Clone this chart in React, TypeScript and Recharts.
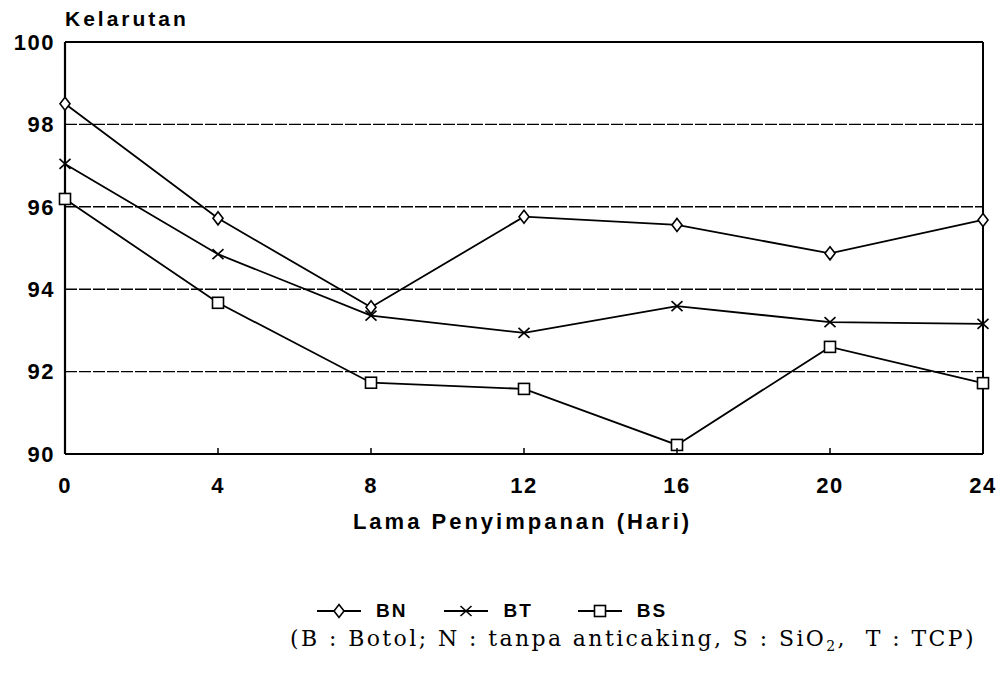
import React from 'react';
import { LineChart, Line, XAxis, YAxis, ReferenceLine } from 'recharts';

const days = [0, 4, 8, 12, 16, 20, 24];
const bn = [98.5, 95.72, 93.56, 95.76, 95.56, 94.87, 95.68];
const bt = [97.04, 94.85, 93.36, 92.94, 93.59, 93.2, 93.16];
const bs = [96.19, 93.67, 91.73, 91.58, 90.22, 92.6, 91.72];
const seriesNames = ['BN', 'BT', 'BS'];
const yTicks = [90, 92, 94, 96, 98, 100];
const gridValues = [92, 94, 96, 98];
const xTicks = [0, 4, 8, 12, 16, 20, 24];

const data = days.map((d, i) => ({ day: d, BN: bn[i], BT: bt[i], BS: bs[i] }));

const SANS = '"Liberation Sans", Arial, sans-serif';
const SERIF = '"DejaVu Serif", "Liberation Serif", serif';

const Diamond = (props: any) => {
  const { cx, cy } = props;
  if (cx == null || cy == null) return null;
  return (
    <path d={`M${cx},${cy - 6.5} L${cx + 5},${cy} L${cx},${cy + 6.5} L${cx - 5},${cy} Z`} fill="#fff" stroke="#000" strokeWidth={1.6} />
  );
};
const Cross = (props: any) => {
  const { cx, cy } = props;
  if (cx == null || cy == null) return null;
  return (
    <g stroke="#000" strokeWidth={1.6}>
      <line x1={cx - 5.5} y1={cy - 5} x2={cx + 5.5} y2={cy + 5} />
      <line x1={cx - 5.5} y1={cy + 5} x2={cx + 5.5} y2={cy - 5} />
    </g>
  );
};
const Square = (props: any) => {
  const { cx, cy } = props;
  if (cx == null || cy == null) return null;
  return <rect x={cx - 5.5} y={cy - 5.5} width={11} height={11} fill="#fff" stroke="#000" strokeWidth={1.6} />;
};

const markers: Record<string, (p: any) => any> = { BN: Diamond, BT: Cross, BS: Square };

const XTick = (props: any) => {
  const { x, y, payload, index } = props;
  const inner = index > 0 && index < xTicks.length - 1;
  return (
    <g>
      {inner && <line x1={x} x2={x} y1={y} y2={y - 6} stroke="#000" strokeWidth={1.5} />}
      <text x={x} y={y + 39} textAnchor="middle" fill="#000" fontSize={22} fontWeight="bold" fontFamily={SANS} letterSpacing={1.5}>
        {payload.value}
      </text>
    </g>
  );
};

const LegendBlock = () => (
  <div style={{ position: 'absolute', top: 600, left: 316, display: 'flex', alignItems: 'center' }}>
    {seriesNames.map((name, i) => {
      const M = markers[name];
      return (
        <div key={name} style={{ display: 'flex', alignItems: 'center', marginRight: i === 0 ? 36 : 44 }}>
          <svg width={46} height={20} style={{ display: 'block' }}>
            <line x1={1} x2={45} y1={10} y2={10} stroke="#000" strokeWidth={1.8} />
            <M cx={23} cy={10} />
          </svg>
          <span style={{ marginLeft: 14, fontFamily: SANS, fontWeight: 'bold', fontSize: 19, letterSpacing: 2, color: '#000' }}>
            {name}
          </span>
        </div>
      );
    })}
  </div>
);

export default function App() {
  return (
    <div style={{ position: 'absolute', left: 0, top: 0, width: 1005, height: 676, background: '#fff' }}>
      <LineChart width={1005} height={676} data={data} margin={{ top: 42, right: 22, left: 5, bottom: 182 }}>
        <XAxis
          dataKey="day"
          type="number"
          domain={[0, 24]}
          ticks={xTicks}
          height={40}
          tickSize={0}
          tickMargin={0}
          tickLine={false}
          axisLine={{ stroke: '#000', strokeWidth: 2.2 }}
          tick={<XTick />}
          interval={0}
        />
        <YAxis
          type="number"
          domain={[90, 100]}
          ticks={yTicks}
          width={60}
          tickSize={0}
          tickMargin={10}
          tickLine={false}
          axisLine={{ stroke: '#000', strokeWidth: 2.2 }}
          tick={{ fill: '#000', fontSize: 22, fontWeight: 'bold', fontFamily: SANS, letterSpacing: 1.5 }}
          interval={0}
        />
        {gridValues.map((v) => (
          <ReferenceLine key={v} y={v} stroke="#000" strokeWidth={1.4} strokeDasharray="12 2" />
        ))}
        <ReferenceLine y={100} stroke="#000" strokeWidth={2} />
        <ReferenceLine x={24} stroke="#000" strokeWidth={2} />
        {seriesNames.map((k) => {
          const M = markers[k];
          return (
            <Line
              key={k}
              dataKey={k}
              type="linear"
              stroke="#000"
              strokeWidth={1.8}
              dot={(p: any) => <M key={`${k}-${p.index}`} {...p} />}
              activeDot={false}
              isAnimationActive={false}
            />
          );
        })}
      </LineChart>
      <LegendBlock />
      <div style={{ position: 'absolute', left: 65, top: 7, fontFamily: SANS, fontWeight: 'bold', fontSize: 21, letterSpacing: 3, color: '#000' }}>
        Kelarutan
      </div>
      <div style={{ position: 'absolute', left: 0, width: 1045, top: 509, textAlign: 'center', fontFamily: SANS, fontWeight: 'bold', fontSize: 22, letterSpacing: 3, color: '#000' }}>
        Lama Penyimpanan (Hari)
      </div>
      <div style={{ position: 'absolute', left: 290, top: 626, fontFamily: SERIF, fontSize: 22, letterSpacing: 2.4, color: '#000', whiteSpace: 'nowrap' }}>
        (B : Botol; N : tanpa anticaking, S : SiO<sub style={{ fontSize: 14 }}>2</sub>,&nbsp; T : TCP)
      </div>
    </div>
  );
}
